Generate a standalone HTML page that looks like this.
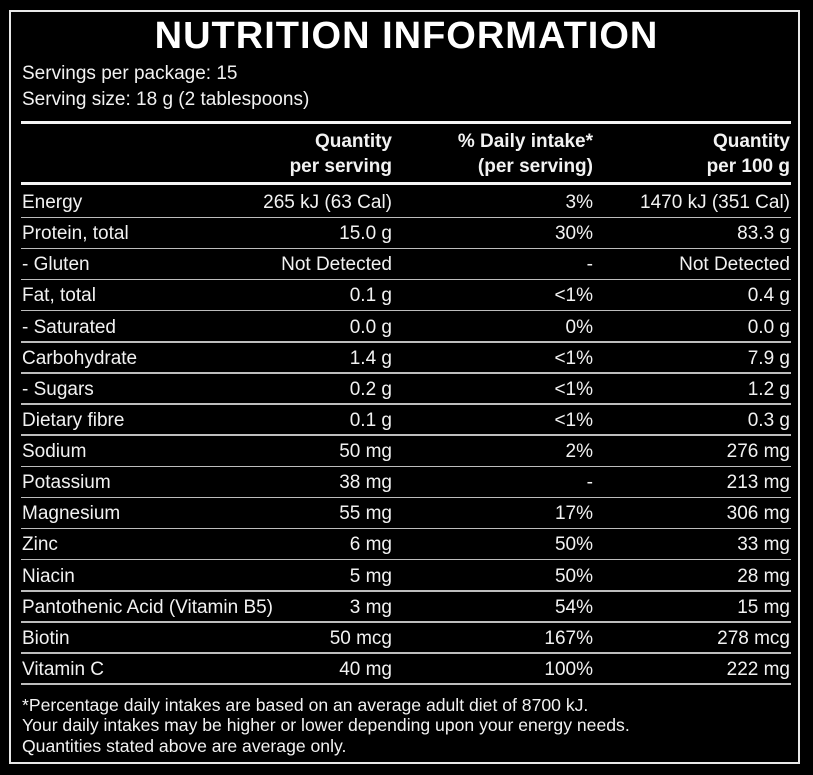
<!DOCTYPE html>
<html><head><meta charset="utf-8"><style>
html,body{margin:0;padding:0;background:#000;}
body{width:813px;height:775px;position:relative;overflow:hidden;font-family:"Liberation Sans",sans-serif;color:#f2f2f2;}
.box{position:absolute;left:9px;top:10px;width:787px;height:750px;border:2px solid #e8e8e8;}
.t{position:absolute;white-space:nowrap;font-size:19px;line-height:20px;}
.r{text-align:right;}
.hl{position:absolute;left:21px;width:770px;background:#f4f4f4;}
.ln{position:absolute;left:21px;width:770px;height:1.5px;background:#bdbdbd;}
h1{position:absolute;left:0;width:813px;top:15px;margin:0;text-align:center;font-size:38px;line-height:42px;font-weight:bold;color:#fff;letter-spacing:1px;}
.b{font-weight:bold;}
.f{font-size:17.6px;}
</style></head><body>
<div class="box"></div>
<h1>NUTRITION INFORMATION</h1>
<div class="t" style="left:22px;top:64px">Servings per package: 15</div>
<div class="t" style="left:22px;top:90px">Serving size: 18 g (2 tablespoons)</div>
<div class="hl" style="top:121px;height:3px"></div>
<div class="t r b" style="right:421px;top:132px">Quantity</div>
<div class="t r b" style="right:421px;top:157px">per serving</div>
<div class="t r b" style="right:220px;top:132px">% Daily intake*</div>
<div class="t r b" style="right:220px;top:157px">(per serving)</div>
<div class="t r b" style="right:23px;top:132px">Quantity</div>
<div class="t r b" style="right:23px;top:157px">per 100 g</div>
<div class="hl" style="top:182px;height:3px"></div>
<div id="rows"></div>
<div class="t f" style="left:22px;top:695px">*Percentage daily intakes are based on an average adult diet of 8700 kJ.</div>
<div class="t f" style="left:22px;top:715px">Your daily intakes may be higher or lower depending upon your energy needs.</div>
<div class="t f" style="left:22px;top:736px">Quantities stated above are average only.</div>
<script>
var d=[["Energy","265 kJ (63 Cal)","3%","1470 kJ (351 Cal)"],["Protein, total","15.0 g","30%","83.3 g"],["- Gluten","Not Detected","-","Not Detected"],["Fat, total","0.1 g","<1%","0.4 g"],["- Saturated","0.0 g","0%","0.0 g"],["Carbohydrate","1.4 g","<1%","7.9 g"],["- Sugars","0.2 g","<1%","1.2 g"],["Dietary fibre","0.1 g","<1%","0.3 g"],["Sodium","50 mg","2%","276 mg"],["Potassium","38 mg","-","213 mg"],["Magnesium","55 mg","17%","306 mg"],["Zinc","6 mg","50%","33 mg"],["Niacin","5 mg","50%","28 mg"],["Pantothenic Acid (Vitamin B5)","3 mg","54%","15 mg"],["Biotin","50 mcg","167%","278 mcg"],["Vitamin C","40 mg","100%","222 mg"]];
var h="";
function e(s){return s.replace(/</g,"&lt;");}
for(var i=0;i<d.length;i++){var y=193+i*31.13;
h+='<div class="t" style="left:22px;top:'+y+'px">'+e(d[i][0])+'</div>';
h+='<div class="t r" style="right:421px;top:'+y+'px">'+e(d[i][1])+'</div>';
h+='<div class="t r" style="right:220px;top:'+y+'px">'+e(d[i][2])+'</div>';
h+='<div class="t r" style="right:23px;top:'+y+'px">'+e(d[i][3])+'</div>';
h+='<div class="ln" style="top:'+(216.5+i*31.13)+'px"></div>';}
document.getElementById("rows").innerHTML=h;
</script>
</body></html>
